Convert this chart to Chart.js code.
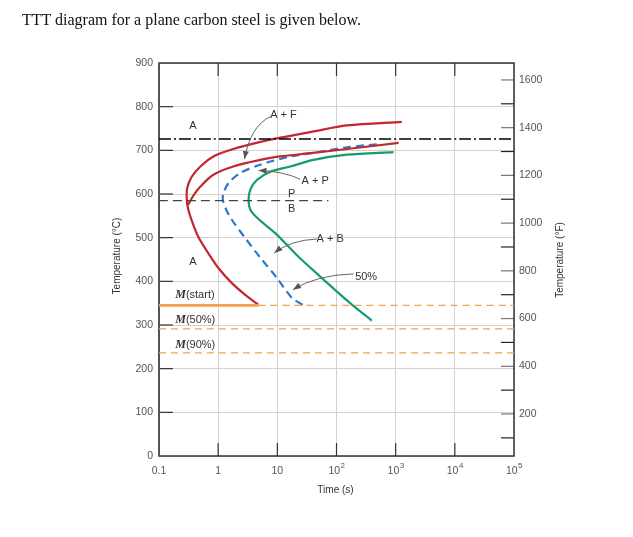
<!DOCTYPE html>
<html>
<head>
<meta charset="utf-8">
<script src="https://cdn.jsdelivr.net/npm/chart.js@4.4.0/dist/chart.umd.min.js"></script>
<style>
  body { margin: 0; background: #fff; }
  #wrap { position: absolute; left: 0; top: 0; width: 633px; height: 537px; }
  #title { position: absolute; left: 22px; top: 11px; font-family: "Liberation Serif", "Times New Roman", serif; font-size: 16px; color: #111; }
</style>
</head>
<body>
<div id="wrap"><canvas id="ttt" width="633" height="537"></canvas></div>
<div id="title">TTT diagram for a plane carbon steel is given below.</div>
<script>
// time (s) and temperature (°C)
var redStartTime = [1270, 150, 40, 11.2, 5.1, 1.8, 0.83, 0.5, 0.36, 0.30, 0.295, 0.313, 0.365, 0.461, 0.654, 1.0, 1.67, 2.87, 4.81];
var redStartTemp = [765, 757, 743, 729, 719, 703, 686, 663, 640, 614, 587, 564, 536, 502, 468, 431, 397, 369, 346];

var redFinishTime = [1120, 150, 40, 11, 5.1, 1.8, 0.83, 0.5, 0.38, 0.31];
var redFinishTemp = [717, 703, 694, 686, 678, 663, 644, 617, 596, 575];

var halfTime = [480, 150, 40, 16.5, 5.1, 2.36, 1.5, 1.23, 1.2, 1.37, 1.7, 2.87, 5.1, 9.8, 17.7, 27.7];
var halfTemp = [714, 707, 694, 686, 667, 648, 625, 602, 587, 564, 541, 499, 455, 408, 362, 345];

var greenTime = [920, 150, 41, 16.5, 7.6, 4.5, 3.5, 3.26, 3.5, 4.6, 9.8, 21, 53, 170, 396];
var greenTemp = [696, 690, 678, 663, 651, 632, 610, 587, 564, 545, 507, 461, 411, 350, 310];

var eutectoidTemp = 726;
var pbTemp = 585, pbEndTime = 73;
var mStart = 345, mStartTime = 4.81, m50 = 291, m90 = 236;

var timeTicks = [0.1, 1, 10, 100, 1000, 10000, 100000];
var timeBase = ['0.1', '1', '10', '10', '10', '10', '10'];
var timeExp = ['', '', '', '2', '3', '4', '5'];
var fahrTicks = [100, 200, 300, 400, 500, 600, 700, 800, 900, 1000, 1100, 1200, 1300, 1400, 1500, 1600];

// region labels [text, time, temp]
var regionLabels = [
  ['A', 0.375, 756], ['A', 0.375, 444],
  ['A + F', 12.7, 781], ['A + P', 43.7, 629],
  ['P', 17.4, 600], ['B', 17.4, 566],
  ['A + B', 78, 497], ['50%', 317, 411]
];
var mLabels = [['(start)', 0.188, 369], ['(50%)', 0.188, 312], ['(90%)', 0.188, 255]];

// arrows: start, control, end as [time, temp]
var arrows = [
  [[7.6, 777], [3.5, 755], [2.79, 680]],
  [[24.4, 634], [12.7, 652], [4.8, 654]],
  [[46.7, 497], [16.5, 494], [8.9, 465]],
  [[194, 417], [46.7, 415], [18.4, 381]]
];

function pts(ts, vs) {
  var out = [];
  for (var i in ts) out.push({x: ts[i], y: vs[i]});
  return out;
}

function curve(data, color, dash, width) {
  return {
    data: data, showLine: true, borderColor: color, backgroundColor: color,
    borderWidth: width || 2.2, borderDash: dash || [], pointRadius: 0,
    tension: 0.3, fill: false, yAxisID: 'y'
  };
}

var orange = '#f4a04c';
var sans = '"Liberation Sans", Arial, sans-serif';

var extras = {
  id: 'extras',
  beforeDatasetsDraw: function(chart) {
    var ctx = chart.ctx, a = chart.chartArea;
    var x = chart.scales.x, y = chart.scales.y, y2 = chart.scales.y2;
    ctx.save();
    ctx.strokeStyle = '#333';
    ctx.lineWidth = 1.2;
    // inside ticks
    for (var v = 100; v < 900; v += 100) {
      var py = y.getPixelForValue(v);
      ctx.beginPath(); ctx.moveTo(a.left, py); ctx.lineTo(a.left + 14, py); ctx.stroke();
    }
    for (var i = 1; i < timeTicks.length - 1; i++) {
      var px = x.getPixelForValue(timeTicks[i]);
      ctx.beginPath(); ctx.moveTo(px, a.bottom); ctx.lineTo(px, a.bottom - 13); ctx.stroke();
      ctx.beginPath(); ctx.moveTo(px, a.top); ctx.lineTo(px, a.top + 13); ctx.stroke();
    }
    for (var j in fahrTicks) {
      var pf = y2.getPixelForValue(fahrTicks[j]);
      ctx.strokeStyle = (fahrTicks[j] % 200 === 0) ? '#777' : '#222';
      ctx.beginPath(); ctx.moveTo(a.right, pf); ctx.lineTo(a.right - 13, pf); ctx.stroke();
    }
    ctx.strokeStyle = '#333';
    ctx.lineWidth = 1.5;
    ctx.strokeRect(a.left, a.top, a.right - a.left, a.bottom - a.top);
    ctx.strokeStyle = '#555';
    ctx.lineWidth = 2;
    ctx.beginPath(); ctx.moveTo(a.left, a.top); ctx.lineTo(a.left, a.bottom); ctx.stroke();

    // time tick labels with superscripts
    ctx.fillStyle = '#555';
    ctx.textBaseline = 'alphabetic';
    for (var k in timeTicks) {
      var tx = x.getPixelForValue(timeTicks[k]);
      ctx.font = '10.5px ' + sans;
      var wb = ctx.measureText(timeBase[k]).width;
      ctx.font = '8px ' + sans;
      var we = timeExp[k] ? ctx.measureText(timeExp[k]).width : 0;
      var x0 = tx - (wb + we) / 2;
      ctx.font = '10.5px ' + sans;
      ctx.textAlign = 'left';
      ctx.fillText(timeBase[k], x0, a.bottom + 18);
      if (timeExp[k]) {
        ctx.font = '8px ' + sans;
        ctx.fillText(timeExp[k], x0 + wb + 0.5, a.bottom + 12);
      }
    }
    ctx.restore();
  },
  afterDatasetsDraw: function(chart) {
    var ctx = chart.ctx, a = chart.chartArea;
    var x = chart.scales.x, y = chart.scales.y;
    ctx.save();
    ctx.fillStyle = '#333';
    ctx.font = '11px ' + sans;
    ctx.textAlign = 'center';
    ctx.textBaseline = 'middle';
    regionLabels.forEach(function(l) {
      ctx.fillText(l[0], x.getPixelForValue(l[1]), y.getPixelForValue(l[2]));
    });
    mLabels.forEach(function(l) {
      var px = x.getPixelForValue(l[1]), py = y.getPixelForValue(l[2]);
      ctx.textAlign = 'left';
      ctx.font = 'bold italic 12px "Liberation Serif", serif';
      ctx.fillText('M', px, py);
      var w = ctx.measureText('M').width;
      ctx.font = '11px ' + sans;
      ctx.fillText(l[0], px + w, py);
    });
    ctx.strokeStyle = '#666';
    ctx.fillStyle = '#555';
    ctx.lineWidth = 1;
    arrows.forEach(function(ar) {
      var p0 = {x: x.getPixelForValue(ar[0][0]), y: y.getPixelForValue(ar[0][1])};
      var c = {x: x.getPixelForValue(ar[1][0]), y: y.getPixelForValue(ar[1][1])};
      var p1 = {x: x.getPixelForValue(ar[2][0]), y: y.getPixelForValue(ar[2][1])};
      ctx.beginPath(); ctx.moveTo(p0.x, p0.y); ctx.quadraticCurveTo(c.x, c.y, p1.x, p1.y); ctx.stroke();
      var ang = Math.atan2(p1.y - c.y, p1.x - c.x);
      ctx.beginPath();
      ctx.moveTo(p1.x, p1.y);
      ctx.lineTo(p1.x - 8 * Math.cos(ang) + 3 * Math.sin(ang), p1.y - 8 * Math.sin(ang) - 3 * Math.cos(ang));
      ctx.lineTo(p1.x - 8 * Math.cos(ang) - 3 * Math.sin(ang), p1.y - 8 * Math.sin(ang) + 3 * Math.cos(ang));
      ctx.closePath(); ctx.fill();
    });
    // axis titles
    ctx.fillStyle = '#333';
    ctx.font = '10px ' + sans;
    ctx.textAlign = 'center';
    ctx.fillText('Time (s)', (a.left + a.right) / 2 - 1, 490);
    ctx.save();
    ctx.translate(117, 256); ctx.rotate(-Math.PI / 2);
    ctx.fillText('Temperature (\u00b0C)', 0, 0);
    ctx.restore();
    ctx.save();
    ctx.translate(560, 260); ctx.rotate(-Math.PI / 2);
    ctx.fillText('Temperature (\u00b0F)', 0, 0);
    ctx.restore();
    ctx.restore();
  }
};

new Chart(document.getElementById('ttt'), {
  type: 'scatter',
  data: {
    datasets: [
      curve(pts([0.1, mStartTime], [mStart, mStart]), orange, [], 2.6),
      curve(pts([mStartTime, 100000], [mStart, mStart]), orange, [7, 5], 1.2),
      curve(pts([0.1, 100000], [m50, m50]), orange, [7, 5], 1.2),
      curve(pts([0.1, 100000], [m90, m90]), orange, [7, 5], 1.2),
      curve(pts([0.1, 100000], [eutectoidTemp, eutectoidTemp]), '#000', [12, 3, 2, 3], 1.3),
      curve(pts([0.1, pbEndTime], [pbTemp, pbTemp]), '#444', [9, 5], 1.2),
      curve(pts(redStartTime, redStartTemp), '#c1272d'),
      curve(pts(redFinishTime, redFinishTemp), '#c1272d'),
      curve(pts(greenTime, greenTemp), '#179b6a'),
      curve(pts(halfTime, halfTemp), '#2a7cc9', [8, 5])
    ]
  },
  options: {
    responsive: false,
    animation: false,
    layout: { padding: { top: 63, left: 0, right: 0, bottom: 0 } },
    plugins: { legend: { display: false }, tooltip: { enabled: false } },
    scales: {
      x: {
        type: 'logarithmic', min: 0.1, max: 100000,
        afterBuildTicks: function(s) { s.ticks = timeTicks.map(function(v) { return {value: v}; }); },
        afterFit: function(s) { s.height = 81; },
        ticks: { display: false },
        grid: { color: '#d2d2d2', drawTicks: false },
        border: { display: false }
      },
      y: {
        min: 0, max: 900,
        afterFit: function(s) { s.width = 159; },
        ticks: {
          stepSize: 100, padding: 6, color: '#555',
          font: { size: 10.5, family: sans }
        },
        grid: { color: '#d2d2d2', drawTicks: false },
        border: { display: false }
      },
      y2: {
        position: 'right', min: 24, max: 1671,
        afterBuildTicks: function(s) { s.ticks = fahrTicks.map(function(v) { return {value: v}; }); },
        afterFit: function(s) { s.width = 119; },
        ticks: {
          autoSkip: false, padding: 5, color: '#555',
          font: { size: 10.5, family: sans },
          callback: function(v) { return v % 200 === 0 ? String(v) : ''; }
        },
        grid: { display: false, drawTicks: false },
        border: { display: false }
      }
    }
  },
  plugins: [extras]
});
</script>
</body>
</html>
